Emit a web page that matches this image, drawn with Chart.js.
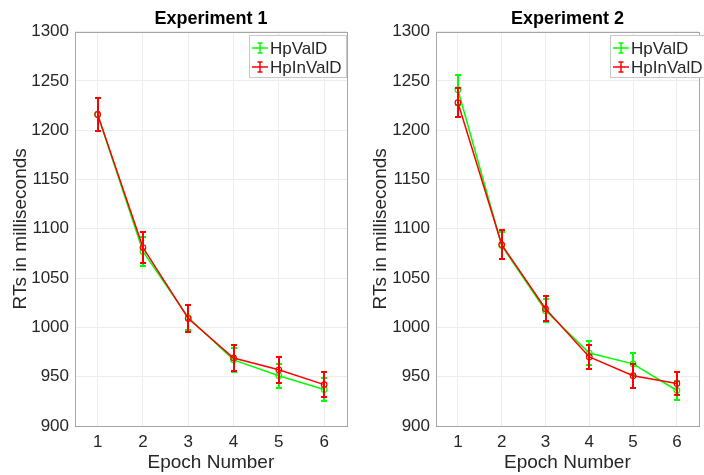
<!DOCTYPE html>
<html>
<head>
<meta charset="utf-8">
<script src="https://cdn.jsdelivr.net/npm/chart.js@4.4.1/dist/chart.umd.min.js"></script>
<style>
    html, body { margin: 0; padding: 0; background: #fff; }
    #wrap { position: relative; width: 704px; height: 475px; overflow: hidden; }
    .panel { position: absolute; top: 0; width: 352px; height: 475px; }
</style>
</head>
<body>
<div id="wrap">
    <div class="panel" style="left:0"><canvas id="exp1"></canvas></div>
    <div class="panel" style="left:352px"><canvas id="exp2"></canvas></div>
</div>
<script>
// ------------------------------------------------------------
// Datos
// ------------------------------------------------------------
const epochs = ['1', '2', '3', '4', '5', '6'];
const yTicks = [900, 950, 1000, 1050, 1100, 1150, 1200, 1250, 1300];
const seriesNames = ['HpValD', 'HpInValD'];

const exp1Valid      = [1216, 1077, 1010, 967, 951, 937];
const exp1ValidErr   = [17, 15, 13, 12, 12, 12];
const exp1Invalid    = [1216, 1081, 1009, 969, 957, 942];
const exp1InvalidErr = [17, 16, 14, 13, 13, 13];

const exp2Valid      = [1241, 1083, 1017, 974, 963, 936];
const exp2ValidErr   = [15, 14, 12, 12, 11, 10];
const exp2Invalid    = [1228, 1084, 1019, 970, 951, 943];
const exp2InvalidErr = [15, 15, 13, 12, 12, 12];

const GREEN = '#00ff00';
const RED = '#ff0000';
const TEXT = '#262626';
const FONT = "'Liberation Sans', Arial, Helvetica, sans-serif";

// Barras de error: se dibujan justo despues de cada dataset
// (x redondeado para que el rojo tape al verde sin mezclarse)
const errorBars = {
    id: 'errorBars',
    afterDatasetDraw(chart, args) {
        const ds = chart.data.datasets[args.index];
        if (!ds.errors) return;
        const ctx = chart.ctx;
        const y = chart.scales.y;
        ctx.save();
        ctx.strokeStyle = ds.borderColor;
        ctx.lineWidth = 2;
        args.meta.data.forEach((pt, i) => {
            const x = Math.round(pt.x);
            const top = Math.round(y.getPixelForValue(ds.data[i] + ds.errors[i]));
            const bot = Math.round(y.getPixelForValue(ds.data[i] - ds.errors[i]));
            ctx.beginPath();
            ctx.moveTo(x, top); ctx.lineTo(x, bot);
            ctx.moveTo(x - 3, top); ctx.lineTo(x + 3, top);
            ctx.moveTo(x - 3, bot); ctx.lineTo(x + 3, bot);
            ctx.stroke();
        });
        ctx.restore();
    }
};

// Caja del eje + leyenda estilo MATLAB
const boxAndLegend = {
    id: 'boxAndLegend',
    afterDraw(chart, args, opts) {
        const ctx = chart.ctx;
        const a = chart.chartArea;
        ctx.save();
        ctx.strokeStyle = '#a6a6a6';
        ctx.lineWidth = 1;
        ctx.strokeRect(Math.round(a.left) + 0.5, Math.round(a.top) + 0.5,
            Math.round(a.right - a.left), Math.round(a.bottom - a.top));

        const lx = opts.x, ly = Math.round(a.top) + 3, w = 97, h = 42;
        ctx.fillStyle = '#fff';
        ctx.fillRect(lx, ly, w, h);
        ctx.strokeStyle = '#c8c8c8';
        ctx.strokeRect(lx + 0.5, ly + 0.5, w, h);

        ctx.font = '17px ' + FONT;
        ctx.textBaseline = 'middle';
        chart.data.datasets.forEach((ds, i) => {
            const cy = ly + 13 + i * 19;
            const cx = lx + 11;
            ctx.strokeStyle = ds.borderColor;
            ctx.lineWidth = 1.5;
            ctx.beginPath();
            ctx.moveTo(lx + 3, cy); ctx.lineTo(lx + 19, cy);
            ctx.moveTo(cx, cy - 5); ctx.lineTo(cx, cy + 5);
            ctx.moveTo(cx - 2.5, cy - 5); ctx.lineTo(cx + 2.5, cy - 5);
            ctx.moveTo(cx - 2.5, cy + 5); ctx.lineTo(cx + 2.5, cy + 5);
            ctx.stroke();
            ctx.fillStyle = TEXT;
            ctx.fillText(ds.label, lx + 21, cy + 1);
        });
        ctx.restore();
    }
};

function makeChart(id, title, valid, validErr, invalid, invalidErr, layout) {
    const el = document.getElementById(id);
    return new Chart(el, {
        type: 'line',
        data: {
            labels: epochs,
            datasets: [
                // order: el rojo (0) se pinta encima del verde (1)
                { label: seriesNames[0], data: valid, errors: validErr, borderColor: GREEN, order: 1 },
                { label: seriesNames[1], data: invalid, errors: invalidErr, borderColor: RED, order: 0 }
            ].map(d => Object.assign(d, {
                borderWidth: 1.5,
                pointRadius: 2.8,
                pointBorderWidth: 1.2,
                pointBackgroundColor: 'rgba(0,0,0,0)',
                pointBorderColor: d.borderColor,
                tension: 0
            }))
        },
        options: {
            responsive: true,
            maintainAspectRatio: false,
            animation: false,
            layout: { padding: { left: 0, right: layout.padRight, top: 0, bottom: 0 } },
            plugins: {
                legend: { display: false },
                tooltip: { enabled: false },
                title: {
                    display: true, text: title, color: '#000',
                    fullSize: false,
                    font: { family: FONT, size: 18, weight: 'bold' },
                    padding: { top: 8, bottom: 2 }
                },
                boxAndLegend: { x: layout.legendX }
            },
            scales: {
                x: {
                    type: 'category',
                    offset: true,
                    grid: { color: '#ececec', offset: false, drawTicks: false },
                    border: { display: false },
                    ticks: { color: TEXT, font: { family: FONT, size: 17 }, padding: 6, maxRotation: 0 },
                    title: {
                        display: true, text: 'Epoch Number', color: TEXT,
                        font: { family: FONT, size: 19 }, padding: { top: 0, bottom: 1 }
                    },
                    afterFit: s => { s.height = 49; }
                },
                y: {
                    min: 900, max: 1300,
                    afterBuildTicks: s => { s.ticks = yTicks.map(v => ({ value: v })); },
                    grid: { color: '#ececec', drawTicks: false },
                    border: { display: false },
                    ticks: { color: TEXT, font: { family: FONT, size: 17 }, padding: 6, callback: v => String(v) },
                    title: {
                        display: true, text: 'RTs in milliseconds', color: TEXT,
                        font: { family: FONT, size: 19 }, padding: { top: layout.yTitlePad, bottom: 0 }
                    },
                    afterFit: s => { s.width = layout.yWidth; }
                }
            }
        },
        plugins: [errorBars, boxAndLegend]
    });
}

makeChart('exp1', 'Experiment 1', exp1Valid, exp1ValidErr, exp1Invalid, exp1InvalidErr,
    { padRight: 3, yWidth: 75, yTitlePad: 9, legendX: 249 });
makeChart('exp2', 'Experiment 2', exp2Valid, exp2ValidErr, exp2Invalid, exp2InvalidErr,
    { padRight: 1, yWidth: 84, yTitlePad: 17, legendX: 258 });
</script>
</body>
</html>
